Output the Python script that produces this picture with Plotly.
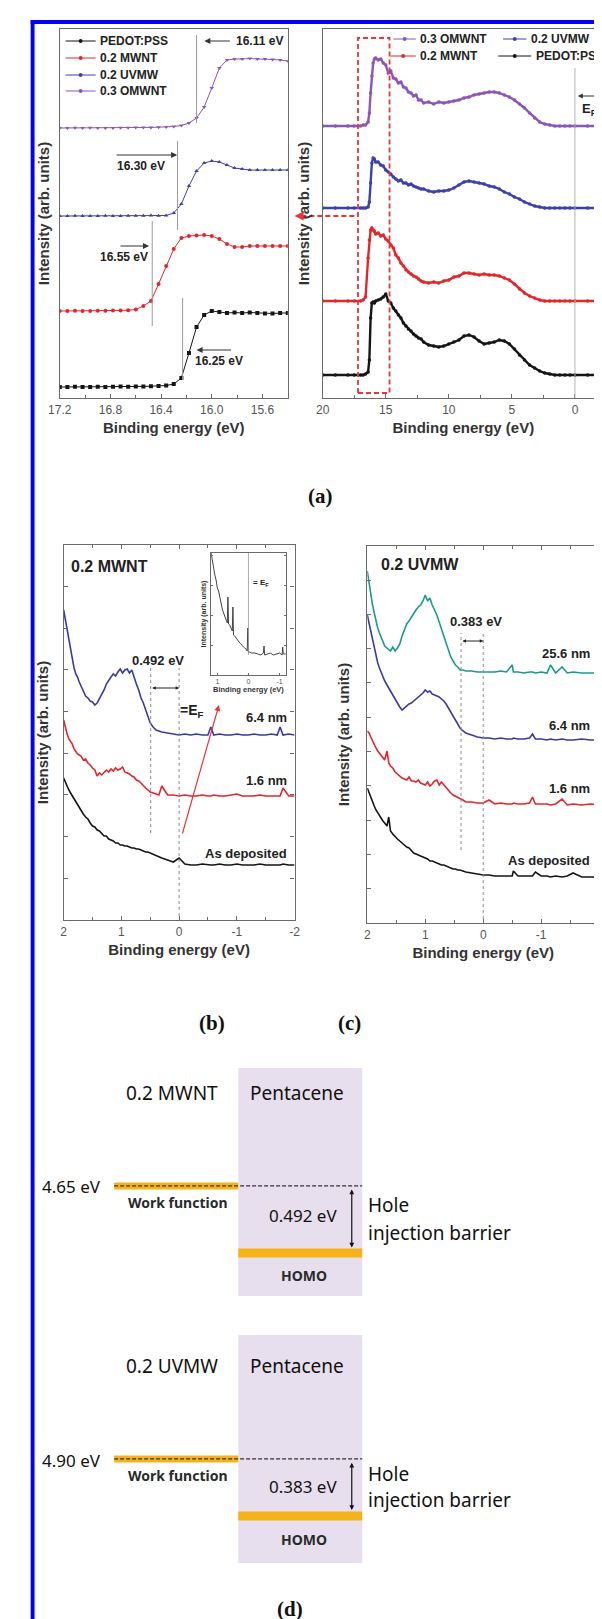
import plotly.graph_objects as go

W, H = 602, 1619

# ======================= DATA =======================
# (a) left : secondary-electron cut-off region
cutoff_energy = [17.2, 17.14, 17.08, 17.02, 16.96, 16.9, 16.84, 16.78, 16.72, 16.66,
                 16.6, 16.54, 16.48, 16.42, 16.36, 16.3, 16.24, 16.18, 16.12, 16.06,
                 16.0, 15.94, 15.88, 15.82, 15.76, 15.7, 15.64, 15.58, 15.52, 15.46, 15.4]
cutoff_pedot = [11, 11, 11.2, 11, 11, 11.3, 11, 11.2, 11.4, 11.3,
                11.5, 11.6, 11.8, 12, 12.5, 14, 20, 45, 71, 83,
                87, 86, 85, 85.5, 85, 85.5, 85, 84.5, 84.5, 85, 85]
cutoff_mwnt = [87, 87, 87.2, 87, 87.1, 87.3, 87.2, 87.5, 87.6, 87.8,
               88.5, 92, 97, 114, 132, 149, 160, 162, 162.5, 163,
               162, 159, 154, 151, 151, 152, 152, 152, 152, 152, 152]
cutoff_uvmw = [182, 182, 182.2, 182, 182.1, 182, 182.3, 182.1, 182, 182.2,
               182.3, 182.2, 182.4, 182.3, 182.5, 185, 194, 212, 227, 235,
               237, 236, 233, 230, 229, 228, 228, 228, 228, 228, 228]
cutoff_omwnt = [270, 270, 270.3, 270, 270.2, 270, 270.1, 270, 270.2, 270.3,
                270.4, 270.5, 270.6, 270.8, 271, 271.5, 272.5, 275, 280, 291,
                310, 330, 338, 339, 339, 339.5, 339, 339, 338.5, 338, 337]
cutoff_line_pos = [16.12, 16.27, 16.47, 16.23]      # OMWNT, UVMW, MWNT, PEDOT
cutoff_labels = ["16.11 eV", "16.30 eV", "16.55 eV", "16.25 eV"]

# (a) right : full UPS spectra
ups_energy = [20, 19, 18, 17.5, 17, 16.8, 16.6, 16.4, 16.3, 16.2,
              16.1, 16.0, 15.9, 15.8, 15.6, 15.4, 15.2, 15.0, 14.8, 14.6,
              14.4, 14.2, 14.0, 13.8, 13.6, 13.4, 13.2, 13.0, 12.8, 12.6,
              12.4, 12.2, 12.0, 11.6, 11.2, 10.8, 10.4, 10.0, 9.6, 9.2,
              8.8, 8.4, 8.0, 7.6, 7.2, 6.8, 6.4, 6.0, 5.6, 5.2,
              4.8, 4.4, 4.0, 3.6, 3.2, 2.8, 2.4, 2.0, 1.6, 1.2,
              0.8, 0.4, 0, -1, -2.3]
ups_omwnt = [272, 272, 272, 272, 272, 273, 273, 276, 285, 305,
             322, 335, 339, 340, 338, 339, 335, 333, 325, 327,
             320, 319, 315, 316, 311, 310, 306, 305, 302, 303,
             298, 298, 295, 296, 294, 296, 295, 296, 297, 298,
             300, 301, 303, 304, 305, 306, 306, 305, 303, 301,
             298, 294, 290, 285, 280, 276, 274, 273, 272, 272,
             272, 272, 272, 272, 272]
ups_uvmw = [190, 190, 190, 190, 190, 190, 190, 191, 196, 215,
            235, 240, 239, 236, 236, 233, 232, 228, 226, 224,
            221, 219, 217, 218, 215, 215, 213, 214, 212, 211,
            210, 209, 209, 207, 206, 207, 207, 208, 210, 213,
            216, 217, 216, 215, 214, 212, 211, 209, 206, 204,
            201, 199, 196, 194, 192, 191, 190, 190, 190, 190,
            190, 190, 190, 190, 190]
ups_mwnt = [97, 97, 97, 97, 97, 98, 101, 140, 158, 168,
            170, 168, 167, 164, 165, 162, 163, 159, 157, 153,
            150, 143, 140, 135, 132, 128, 126, 124, 122, 121,
            119, 117, 116, 115, 116, 115, 117, 118, 121, 122,
            125, 125, 124, 123, 124, 123, 123, 122, 120, 118,
            114, 109, 105, 102, 100, 98, 97, 97, 97, 97,
            97, 97, 97, 97, 97]
ups_pedot = [23, 23, 23, 23, 23, 23, 24, 26, 38, 80,
             95, 96, 95, 97, 98, 99, 101, 104, 97, 95,
             90, 87, 83, 80, 75, 72, 69, 67, 64, 62,
             60, 59, 56, 53, 52, 51, 52, 54, 56, 58,
             62, 63, 61, 57, 54, 55, 56, 58, 57, 54,
             49, 43, 38, 33, 30, 27, 25, 24, 23, 23,
             23, 23, 23, 23, 23]
zoom_box = [17.2, 14.7]
ups_ticks = [20, 15, 10, 5, 0]

# (b) 0.2 MWNT near E_F
energy_b = [2.0, 1.97, 1.94, 1.91, 1.88, 1.85, 1.82, 1.79, 1.76, 1.73,
            1.7, 1.66, 1.62, 1.58, 1.54, 1.5, 1.46, 1.42, 1.38, 1.34,
            1.3, 1.26, 1.22, 1.18, 1.14, 1.1, 1.06, 1.02, 0.98, 0.94,
            0.9, 0.86, 0.82, 0.78, 0.74, 0.7, 0.66, 0.62, 0.58, 0.54,
            0.5, 0.45, 0.4, 0.35, 0.3, 0.2, 0.1, 0.0, -0.1, -0.2,
            -0.3, -0.4, -0.5, -0.55, -0.6, -0.7, -0.8, -0.9, -1.0, -1.1,
            -1.2, -1.3, -1.4, -1.5, -1.6, -1.7, -1.75, -1.8, -1.9, -2.0]
b_64nm = [310, 300, 288, 279, 268, 258, 252, 246, 243, 238,
          234, 230, 224, 222, 219, 218, 215, 217, 221, 225,
          230, 236, 240, 243, 246, 244, 248, 251, 247, 250,
          251, 247, 250, 242, 236, 230, 222, 217, 210, 203,
          197, 193, 190, 189, 188, 187, 186, 185, 186, 185,
          186, 185, 185, 193, 185, 186, 185, 185, 186, 185,
          185, 186, 185, 185, 186, 185, 193, 185, 186, 185]
b_16nm = [200, 192, 186, 181, 178, 176, 171, 168, 166, 165,
          164, 160, 161, 157, 155, 152, 150, 144, 147, 145,
          147, 150, 148, 151, 149, 152, 150, 151, 153, 148,
          147, 146, 144, 143, 140, 139, 137, 134, 132, 130,
          128, 127, 126, 125, 134, 125, 125, 124, 125, 124,
          124, 125, 124, 124, 125, 124, 124, 125, 126, 124,
          124, 124, 125, 124, 124, 124, 124, 132, 124, 124]
b_asdep = [142, 138, 133, 130, 127, 124, 121, 118, 116, 112,
           109, 106, 103, 101, 97, 94, 93, 90, 89, 86,
           84, 84, 81, 80, 79, 77, 77, 75, 75, 74,
           74, 73, 72, 72, 71, 71, 70, 69, 68, 68,
           67, 66, 64, 63, 62, 60, 58, 62, 56, 55,
           55, 56, 55, 55, 55, 56, 55, 55, 56, 55,
           55, 55, 56, 55, 55, 55, 55, 56, 55, 55]
inset_energy = [1.2, 1.16, 1.12, 1.08, 1.04, 1.0, 0.96, 0.92, 0.88, 0.84,
                0.8, 0.76, 0.72, 0.68, 0.66, 0.64, 0.6, 0.56, 0.52, 0.5,
                0.48, 0.44, 0.4, 0.36, 0.32, 0.28, 0.24, 0.2, 0.16, 0.12,
                0.08, 0.04, 0.02, 0.0, -0.04, -0.1, -0.2, -0.3, -0.4, -0.48,
                -0.5, -0.52, -0.6, -0.7, -0.8, -0.9, -1.0, -1.08, -1.1, -1.12,
                -1.2]
inset_intensity = [122, 113, 108, 100, 95, 87, 84, 77, 73, 66,
                   62, 59, 55, 52, 78, 51, 50, 47, 44, 68,
                   40, 39, 37, 35, 33, 32, 31, 29, 28, 27,
                   26, 24, 47, 22, 23, 22, 22, 21, 20, 22,
                   29, 20, 21, 22, 20, 21, 22, 20, 28, 21,
                   21]
barrier_b = 0.492
near_ef_ticks = [2, 1, 0, -1, -2]
near_ef_ticktext = ["2", "1", "0", "-1", "-2"]
inset_ticks = [1, 0, -1]
inset_ticktext = ["1", "0", "-1"]

# (c) 0.2 UVMW near E_F
energy_c = [2.0, 1.97, 1.94, 1.91, 1.88, 1.85, 1.82, 1.79, 1.76, 1.73,
            1.7, 1.66, 1.63, 1.6, 1.56, 1.52, 1.48, 1.44, 1.4, 1.36,
            1.32, 1.28, 1.24, 1.2, 1.16, 1.12, 1.08, 1.04, 1.0, 0.96,
            0.92, 0.88, 0.84, 0.8, 0.76, 0.72, 0.68, 0.64, 0.6, 0.56,
            0.52, 0.48, 0.44, 0.4, 0.35, 0.3, 0.2, 0.1, 0.0, -0.1,
            -0.2, -0.3, -0.4, -0.5, -0.52, -0.6, -0.7, -0.8, -0.85, -0.9,
            -1.0, -1.1, -1.16, -1.25, -1.36, -1.45, -1.55, -1.7, -1.85, -2.0]
c_256nm = [352, 340, 330, 318, 310, 302, 295, 290, 285, 282,
           277, 275, 273, 272, 276, 272, 275, 279, 287, 293,
           299, 302, 306, 310, 313, 316, 318, 322, 328, 322,
           325, 318, 313, 308, 301, 295, 287, 280, 272, 266,
           262, 258, 256, 253, 253, 252, 252, 251, 251, 251,
           251, 252, 251, 258, 251, 251, 250, 251, 251, 250,
           251, 250, 258, 250, 256, 250, 251, 250, 250, 250]
c_64nm = [308, 300, 292, 284, 276, 267, 260, 255, 250, 246,
          242, 238, 235, 232, 228, 224, 219, 216, 213, 215,
          217, 219, 220, 222, 224, 226, 228, 230, 233, 231,
          232, 229, 228, 227, 226, 224, 222, 219, 215, 211,
          206, 202, 198, 195, 192, 190, 188, 186, 185, 185,
          184, 185, 184, 184, 185, 184, 184, 185, 189, 184,
          184, 183, 184, 183, 184, 183, 183, 184, 183, 183]
c_16nm = [192, 190, 186, 182, 178, 175, 172, 170, 168, 165,
          163, 172, 160, 157, 155, 151, 149, 147, 145, 144,
          143, 146, 142, 142, 141, 143, 140, 139, 138, 141,
          137, 139, 142, 143, 138, 141, 138, 136, 132, 130,
          128, 127, 126, 125, 123, 121, 121, 120, 120, 123,
          119, 120, 119, 119, 120, 119, 119, 120, 126, 119,
          119, 119, 118, 119, 124, 118, 119, 118, 119, 118]
c_asdep = [135, 130, 125, 121, 117, 113, 110, 107, 105, 102,
           100, 97, 106, 92, 89, 86, 84, 82, 80, 78,
           76, 75, 72, 70, 69, 68, 67, 66, 65, 64,
           62, 62, 61, 60, 59, 58, 58, 57, 56, 55,
           54, 54, 53, 53, 52, 51, 50, 49, 48, 48,
           47, 47, 47, 47, 52, 47, 47, 47, 47, 51,
           47, 47, 46, 47, 46, 47, 50, 46, 46, 46]
barrier_c = 0.383

# (d) energy level diagrams
metals = ["0.2 MWNT", "0.2 UVMW"]
work_function = [4.65, 4.90]          # eV
injection_barrier = [0.492, 0.383]    # eV

for a, b in [(cutoff_energy, cutoff_pedot), (cutoff_energy, cutoff_mwnt), (cutoff_energy, cutoff_uvmw),
             (cutoff_energy, cutoff_omwnt), (ups_energy, ups_omwnt), (ups_energy, ups_uvmw),
             (ups_energy, ups_mwnt), (ups_energy, ups_pedot), (energy_b, b_64nm), (energy_b, b_16nm),
             (energy_b, b_asdep), (inset_energy, inset_intensity), (energy_c, c_256nm),
             (energy_c, c_64nm), (energy_c, c_16nm), (energy_c, c_asdep)]:
    assert len(a) == len(b), (len(a), len(b))

# ======================= STYLE HELPERS =======================
FONT = "Liberation Sans"
DFONT = "Noto Sans"
C_PEDOT, C_MWNT, C_UVMW, C_OMWNT, C_TEAL = "#151515", "#e4262b", "#3d3fae", "#8c55b8", "#1c9a8b"
ORANGE, LAVENDER = "#f6b21b", "#e8dfee"
TITLE_FONT = dict(family=FONT, size=15, color="#333333", weight="bold")


def dom_x(a, b):
    return [a / W, b / W]


def dom_y(top, bottom):
    return [1 - bottom / H, 1 - top / H]


def frame_axis(**kw):
    d = dict(showline=True, linecolor="#6a6a6a", linewidth=1.4, mirror=True,
             ticks="inside", ticklen=4, tickwidth=1, tickcolor="#6a6a6a",
             showgrid=False, zeroline=False,
             tickfont=dict(family=FONT, size=12, color="#555555"))
    d.update(kw)
    return d


def txt(x, y, s, size=12, bold=True, anchor="center", family=FONT, color="#222222"):
    return dict(x=x / W, y=1 - y / H, xref="paper", yref="paper", text=s, showarrow=False,
                xanchor=anchor, yanchor="middle",
                font=dict(family=family, size=size, color=color, weight="bold" if bold else "normal"))


def parrow(xh, yh, xt, yt, color="#333333", width=1.2, head=2, size=1.0):
    # head at (xh, yh) in page pixels; tail given in page pixels -> pixel offsets
    return dict(x=xh / W, y=1 - yh / H, ax=xt - xh, ay=yt - yh, xref="paper", yref="paper",
                axref="pixel", ayref="pixel", text="", showarrow=True, arrowhead=head,
                arrowsize=size, arrowwidth=width, arrowcolor=color, standoff=0, startstandoff=0)


fig = go.Figure()

# ---------- (a) left ----------
for name, yv, col, sym in [("PEDOT:PSS", cutoff_pedot, C_PEDOT, "square"),
                           ("0.2 MWNT", cutoff_mwnt, C_MWNT, "circle"),
                           ("0.2 UVMW", cutoff_uvmw, C_UVMW, "triangle-up"),
                           ("0.3 OMWNT", cutoff_omwnt, C_OMWNT, "triangle-down")]:
    fig.add_trace(go.Scatter(x=cutoff_energy, y=yv, name=name, mode="lines+markers",
                             line=dict(color=col, width=1), marker=dict(color=col, size=4, symbol=sym),
                             xaxis="x", yaxis="y", showlegend=False))

# ---------- (a) right ----------
for name, yv, col in [("0.3 OMWNT", ups_omwnt, C_OMWNT), ("0.2 UVMW", ups_uvmw, C_UVMW),
                      ("0.2 MWNT", ups_mwnt, C_MWNT), ("PEDOT:PSS", ups_pedot, C_PEDOT)]:
    fig.add_trace(go.Scatter(x=ups_energy, y=yv, name=name, mode="lines+markers",
                             line=dict(color=col, width=2.4), marker=dict(color=col, size=3.5),
                             xaxis="x2", yaxis="y2", showlegend=False))

# ---------- (b) ----------
for name, yv, col in [("6.4 nm", b_64nm, "#3a3aa6"), ("1.6 nm", b_16nm, "#e3262a"),
                      ("As deposited", b_asdep, "#151515")]:
    fig.add_trace(go.Scatter(x=energy_b, y=yv, name=name, mode="lines",
                             line=dict(color=col, width=1.6), xaxis="x3", yaxis="y3", showlegend=False))
fig.add_trace(go.Scatter(x=inset_energy, y=inset_intensity, mode="lines", name="inset",
                         line=dict(color="#444444", width=1), xaxis="x4", yaxis="y4", showlegend=False))

# ---------- (c) ----------
for name, yv, col in [("25.6 nm", c_256nm, C_TEAL), ("6.4 nm", c_64nm, "#3a3aa6"),
                      ("1.6 nm", c_16nm, "#e3262a"), ("As deposited", c_asdep, "#151515")]:
    fig.add_trace(go.Scatter(x=energy_c, y=yv, name=name, mode="lines",
                             line=dict(color=col, width=1.6), xaxis="x5", yaxis="y5", showlegend=False))

# ---------- (d) ----------
d_axes = [("x6", "y6"), ("x7", "y7")]
for i in range(2):
    xa, ya = d_axes[i]
    wf = -work_function[i]
    homo = -(work_function[i] + injection_barrier[i])
    fig.add_trace(go.Scatter(x=[0, 1], y=[wf, wf], mode="lines", line=dict(color=ORANGE, width=7),
                             xaxis=xa, yaxis=ya, showlegend=False, name="Work function"))
    fig.add_trace(go.Scatter(x=[0, 2], y=[wf, wf], mode="lines",
                             line=dict(color="#333333", width=1.2, dash="4px,2px"),
                             xaxis=xa, yaxis=ya, showlegend=False, name="E_F"))
    fig.add_trace(go.Scatter(x=[1, 2], y=[homo, homo], mode="lines", line=dict(color=ORANGE, width=9),
                             xaxis=xa, yaxis=ya, showlegend=False, name="HOMO"))

# ======================= LAYOUT =======================
minor_a = dict(ticks="inside", ticklen=2.5, tickcolor="#6a6a6a")
layout = dict(
    width=W, height=H, margin=dict(l=0, r=0, t=0, b=0, pad=0),
    paper_bgcolor="white", plot_bgcolor="white", showlegend=False,
    xaxis=frame_axis(domain=dom_x(41, 276), anchor="y", range=[17.2, 15.4], tick0=17.2, dtick=0.4,
                     tickformat=".1f", minor=dict(dtick=0.2, tick0=17.2, **minor_a),
                     title=dict(text="Binding energy (eV)", font=TITLE_FONT, standoff=6)),
    yaxis=frame_axis(domain=dom_y(21, 390), anchor="x", range=[0, 369], showticklabels=False, ticks="",
                     title=dict(text="Intensity (arb. units)", font=TITLE_FONT, standoff=5)),
    xaxis2=frame_axis(domain=dom_x(312, 602), anchor="y2", range=[20, -2.3], tickvals=ups_ticks,
                      minor=dict(dtick=2.5, tick0=0, **minor_a),
                      title=dict(text="Binding energy (eV)", font=TITLE_FONT, standoff=6)),
    yaxis2=frame_axis(domain=dom_y(21, 390), anchor="x2", range=[0, 369], showticklabels=False, ticks="",
                      title=dict(text="Intensity (arb. units)", font=TITLE_FONT, standoff=8)),
    xaxis3=frame_axis(domain=dom_x(45, 283), anchor="y3", range=[2, -2], tickvals=near_ef_ticks,
                      ticktext=near_ef_ticktext, mirror="allticks",
                      minor=dict(dtick=0.5, tick0=0, **minor_a),
                      title=dict(text="Binding energy (eV)", font=TITLE_FONT, standoff=6)),
    yaxis3=frame_axis(domain=dom_y(537, 912), anchor="x3", range=[0, 375], tick0=0, dtick=41.7,
                      showticklabels=False, mirror="allticks",
                      title=dict(text="Intensity (arb. units)", font=TITLE_FONT, standoff=10)),
    xaxis4=frame_axis(domain=dom_x(197, 274), anchor="y4", range=[1.2, -1.2], tickvals=inset_ticks,
                      ticktext=inset_ticktext,
                      linewidth=1, ticklen=2, tickfont=dict(family=FONT, size=7, color="#555555"),
                      title=dict(text="Binding energy (eV)", standoff=2,
                                 font=dict(family=FONT, size=7.5, color="#333333", weight="bold"))),
    yaxis4=frame_axis(domain=dom_y(545, 667), anchor="x4", range=[0, 122], tick0=0, dtick=30,
                      linewidth=1, ticklen=2, showticklabels=False, mirror="allticks",
                      title=dict(text="Intensity (arb. units)", standoff=2,
                                 font=dict(family=FONT, size=7, color="#333333", weight="bold"))),
    xaxis5=frame_axis(domain=dom_x(358, 597), anchor="y5", range=[2, -2], tickvals=near_ef_ticks,
                      ticktext=near_ef_ticktext, mirror="allticks",
                      minor=dict(dtick=0.5, tick0=0, **minor_a),
                      title=dict(text="Binding energy (eV)", font=TITLE_FONT, standoff=6)),
    yaxis5=frame_axis(domain=dom_y(538, 915), anchor="x5", range=[0, 377], tick0=0, dtick=34.3,
                      showticklabels=False, mirror="allticks",
                      title=dict(text="Intensity (arb. units)", font=TITLE_FONT, standoff=12)),
    xaxis6=dict(domain=dom_x(97, 353), anchor="y6", range=[0, 2], visible=False),
    yaxis6=dict(domain=dom_y(1060, 1288), anchor="x6", range=[-5.458, -3.784], visible=False),
    xaxis7=dict(domain=dom_x(97, 353), anchor="y7", range=[0, 2], visible=False),
    yaxis7=dict(domain=dom_y(1327, 1555), anchor="x7", range=[-5.599, -4.067], visible=False),
)
fig.update_layout(**layout)

shapes = []
# cut-off guide lines (a) left
line_spans = [(275, 363), (168, 257), (72, 177), (18, 100)]
for pos, (y0, y1) in zip(cutoff_line_pos, line_spans):
    shapes.append(dict(type="line", xref="x", yref="y", x0=pos, x1=pos, y0=y0, y1=y1,
                       line=dict(color="#9a9a9a", width=1)))
# E_F line (a) right
shapes.append(dict(type="line", xref="x2", yref="y2", x0=0, x1=0, y0=0, y1=330,
                   line=dict(color="#b5b5b5", width=1)))
# red dashed zoom box
shapes.append(dict(type="rect", xref="x2", yref="y2", x0=zoom_box[0], x1=zoom_box[1], y0=5, y1=360,
                   line=dict(color="#e8353a", width=1.8, dash="5px,3px")))
shapes.append(dict(type="line", xref="paper", yref="paper", x0=290 / W, x1=349 / W,
                   y0=1 - 208 / H, y1=1 - 208 / H, line=dict(color="#e8353a", width=1.8, dash="5px,3px")))
# dotted guides (b), (c)
for xa, ya, bar, y0, top in [("x3", "y3", barrier_b, 87, 252), ("x5", "y5", barrier_c, 73, 290)]:
    shapes.append(dict(type="line", xref=xa, yref=ya, x0=bar, x1=bar, y0=y0, y1=top,
                       line=dict(color="#8a8a8a", width=1, dash="dot")))
    shapes.append(dict(type="line", xref=xa, yref=ya, x0=0, x1=0, y0=4, y1=top,
                       line=dict(color="#8a8a8a", width=1, dash="dot")))
# inset E_F line
shapes.append(dict(type="line", xref="x4", yref="y4", x0=0, x1=0, y0=20, y1=122,
                   line=dict(color="#9a9a9a", width=0.8)))
# pentacene boxes
for xa, ya in d_axes:
    shapes.append(dict(type="rect", xref=xa, yref=ya + " domain", x0=1, x1=2, y0=0, y1=1,
                       fillcolor=LAVENDER, line=dict(width=0), layer="below"))

# legend samples (a) left
for yy, col in zip([33, 50, 67, 83], [C_PEDOT, C_MWNT, C_UVMW, C_OMWNT]):
    shapes.append(dict(type="line", xref="paper", yref="paper", x0=47 / W, x1=78 / W,
                       y0=1 - yy / H, y1=1 - yy / H, line=dict(color=col, width=1)))
    shapes.append(dict(type="circle", xref="paper", yref="paper", x0=60.5 / W, x1=64.5 / W,
                       y0=1 - (yy + 2) / H, y1=1 - (yy - 2) / H, fillcolor=col, line=dict(width=0)))
# legend samples (a) right
for (x0, x1, yy, col) in [(385, 408, 31, C_OMWNT), (382, 408, 48, C_MWNT),
                          (498, 522, 31, C_UVMW), (493, 527, 48, C_PEDOT)]:
    shapes.append(dict(type="line", xref="paper", yref="paper", x0=x0 / W, x1=x1 / W,
                       y0=1 - yy / H, y1=1 - yy / H, line=dict(color=col, width=1)))
    cx = (x0 + x1) / 2
    shapes.append(dict(type="circle", xref="paper", yref="paper", x0=(cx - 2) / W, x1=(cx + 2) / W,
                       y0=1 - (yy + 2) / H, y1=1 - (yy - 2) / H, fillcolor=col, line=dict(width=0)))
# blue frame
shapes.append(dict(type="rect", xref="paper", yref="paper", x0=11 / W, x1=15 / W, y0=0, y1=1 - 12 / H,
                   fillcolor="#0000ff", line=dict(width=0), layer="above"))
shapes.append(dict(type="rect", xref="paper", yref="paper", x0=11 / W, x1=1, y0=1 - 16 / H, y1=1 - 12 / H,
                   fillcolor="#0000ff", line=dict(width=0), layer="above"))

ann = []
# legends
for yy, name in zip([33, 50, 67, 83], ["PEDOT:PSS", "0.2 MWNT", "0.2 UVMW", "0.3 OMWNT"]):
    ann.append(txt(80, yy, name, size=12, anchor="left"))
ann += [txt(410, 31, "0.3 OMWNT", 12, anchor="left"), txt(410, 48, "0.2 MWNT", 12, anchor="left"),
        txt(525, 31, "0.2 UVMW", 12, anchor="left"), txt(530, 48, "PEDOT:PSS", 12, anchor="left")]
# (a) left cutoff labels
ann += [parrow(190, 33, 217, 33), txt(221, 33, cutoff_labels[0], 12, anchor="left"),
        parrow(162, 147, 100, 147), txt(125, 158, cutoff_labels[1], 12),
        parrow(133, 238, 103, 238), txt(107, 249, cutoff_labels[2], 12),
        parrow(182, 342, 218, 342), txt(205, 353, cutoff_labels[3], 12)]
# (a) right E_F
ann += [parrow(575, 88, 598, 88, width=1), txt(587, 101, "E<sub>F</sub>", 13)]
ann.append(parrow(283, 208, 292, 208, color="#e8353a", width=1.8, size=1.0))
# (b)
ann += [txt(50, 558, "0.2 MWNT", 16, anchor="left"), txt(142, 652, "0.492 eV", 13),
        txt(177, 703, "=E<sub>F</sub>", 14),
        txt(277, 709, "6.4 nm", 13, anchor="right"), txt(277, 772, "1.6 nm", 13, anchor="right"),
        txt(277, 845, "As deposited", 13, anchor="right"),
        txt(238, 575, "= E<sub>F</sub>", 8, anchor="left")]
ann.append(dict(x=0, y=232, ax=barrier_b, ay=232, xref="x3", yref="y3", axref="x3", ayref="y3",
                text="", showarrow=True, arrowhead=2, arrowside="end+start", arrowsize=0.7,
                arrowwidth=1, arrowcolor="#222222", standoff=0, startstandoff=0))
ann.append(dict(x=-0.69, y=215, ax=-0.05, ay=85, xref="x3", yref="y3", axref="x3", ayref="y3",
                text="", showarrow=True, arrowhead=2, arrowsize=1, arrowwidth=1.2,
                arrowcolor="#e8353a", standoff=0))
# (c)
ann += [txt(370, 557, "0.2 UVMW", 16, anchor="left"), txt(470, 613, "0.383 eV", 13),
        txt(590, 645, "25.6 nm", 13, anchor="right"), txt(590, 717, "6.4 nm", 13, anchor="right"),
        txt(590, 780, "1.6 nm", 13, anchor="right"), txt(590, 852, "As deposited", 13, anchor="right")]
ann.append(dict(x=0, y=282, ax=barrier_c, ay=282, xref="x5", yref="y5", axref="x5", ayref="y5",
                text="", showarrow=True, arrowhead=2, arrowside="end+start", arrowsize=0.7,
                arrowwidth=1, arrowcolor="#222222", standoff=0, startstandoff=0))
# panel labels
SERIF = "Liberation Serif"
for x, y, s in [(310, 488, "(a)"), (198, 1015, "(b)"), (340, 1015, "(c)"), (278, 1601, "(d)")]:
    ann.append(txt(x, y, s, 21, family=SERIF, color="#111111"))
# (d) texts
d_rows = [dict(head=1085, wf=1178, wfl=1194, bar=1207, homo=1267, hole=1197, inj=1225),
          dict(head=1358, wf=1452, wfl=1467, bar=1478, homo=1531, hole=1466, inj=1492)]
for i, r in enumerate(d_rows):
    ann += [txt(157, r["head"], metals[i], 19, bold=False, family=DFONT, color="#111111"),
            txt(286, r["head"], "Pentacene", 19, bold=False, family=DFONT, color="#111111"),
            txt(53, r["wf"], f"{work_function[i]:.2f} eV", 17, bold=False, family=DFONT, color="#111111"),
            txt(163, r["wfl"], "Work function", 14, family=DFONT, color="#2a2a2a"),
            txt(292, r["bar"], f"{injection_barrier[i]:.3f} eV", 17, bold=False, family=DFONT, color="#111111"),
            txt(293, r["homo"], "HOMO", 14, family=DFONT, color="#2a2a2a"),
            txt(357, r["hole"], "Hole", 19, bold=False, family=DFONT, color="#111111", anchor="left"),
            txt(357, r["inj"], "injection barrier", 19, bold=False, family=DFONT, color="#111111",
                anchor="left")]
    xa, ya = d_axes[i]
    wf = -work_function[i]
    homo = -(work_function[i] + injection_barrier[i])
    ann.append(dict(x=1.914, y=homo + 0.04, ax=1.914, ay=wf - 0.015, xref=xa, yref=ya, axref=xa, ayref=ya,
                    text="", showarrow=True, arrowhead=2, arrowside="end+start", arrowsize=0.8,
                    arrowwidth=1.2, arrowcolor="#111111", standoff=0, startstandoff=0))

fig.update_layout(shapes=shapes, annotations=ann)
fig.write_html("out.html")
